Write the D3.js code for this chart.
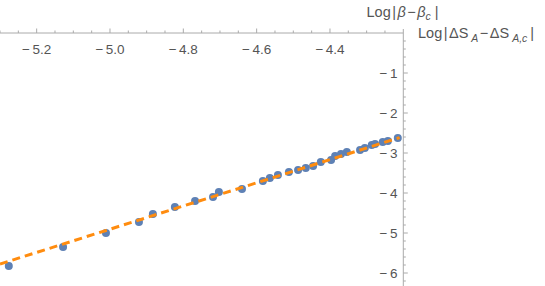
<!DOCTYPE html>
<head>
  <meta charset="utf-8">
  <script src="https://d3js.org/d3.v7.min.js"></script>
  <style>
    body { margin: 0; background: #fff; }
    text { font-family: "Liberation Sans", Arial, sans-serif; fill: #555; }
  </style>
</head>
<body>
  <svg id="chart"></svg>
  <script>
    var width = 545, height = 286;

    // data: Log|beta-beta_c| vs Log|dS_A - dS_A,c|
    var logBeta = [-5.276, -5.128, -5.011, -4.921, -4.883, -4.823, -4.768, -4.719, -4.703,
                   -4.640, -4.583, -4.564, -4.542, -4.512, -4.487, -4.466, -4.446, -4.425,
                   -4.397, -4.386, -4.370, -4.354, -4.318, -4.305, -4.286, -4.277, -4.256,
                   -4.242, -4.215];
    var logDS = [-5.825, -5.35, -5.0, -4.725, -4.525, -4.35, -4.2, -4.1, -3.975,
                 -3.9, -3.7, -3.625, -3.55, -3.475, -3.425, -3.375, -3.325, -3.225,
                 -3.175, -3.075, -3.025, -2.975, -2.925, -2.875, -2.8, -2.775, -2.725,
                 -2.7, -2.625];
    // linear fit shown as the dashed line
    var fitSlope = 2.9;
    var fitIntercept = 9.595;
    var fitRange = [-5.3, -4.21];

    var xTicks = [-5.2, -5.0, -4.8, -4.6, -4.4];
    var xTickLabels = ["5.2", "5.0", "4.8", "4.6", "4.4"];
    var yTicks = [-1, -2, -3, -4, -5, -6];
    var yTickLabels = ["1", "2", "3", "4", "5", "6"];

    var svg = d3.select("#chart").attr("width", width).attr("height", height);

    var x = d3.scaleLinear().domain([-5.3, -4.2]).range([0, 403.3]);
    var y = d3.scaleLinear().domain([0, -6]).range([33, 273]);

    var axisColor = "#aaa";

    //x axis line and ticks (ticks point up)
    svg.append("line")
      .attr("x1", x(-5.3)).attr("x2", x(-4.2))
      .attr("y1", y(0)).attr("y2", y(0))
      .attr("stroke", axisColor);

    var xMinor = d3.range(-5.3, -4.2, 0.05).filter(function(v) {
      return !xTicks.some(function(t) { return Math.abs(t - v) < 1e-6; });
    });
    svg.selectAll(".xminor").data(xMinor).enter().append("line")
      .attr("x1", d => x(d)).attr("x2", d => x(d))
      .attr("y1", y(0)).attr("y2", y(0) - 2.5)
      .attr("stroke", axisColor);
    svg.selectAll(".xmajor").data(xTicks).enter().append("line")
      .attr("x1", d => x(d)).attr("x2", d => x(d))
      .attr("y1", y(0)).attr("y2", y(0) - 4.5)
      .attr("stroke", axisColor);
    var xl = svg.selectAll(".xlab").data(xTicks).enter().append("text")
      .attr("x", d => x(d))
      .attr("y", 53.5)
      .attr("text-anchor", "middle")
      .style("font-size", "13.5px");
    xl.append("tspan").text("\u2212");
    xl.append("tspan").attr("dx", 2.5).text((d, i) => xTickLabels[i]);

    //y axis line and ticks (ticks point right)
    svg.append("line")
      .attr("x1", x(-4.2)).attr("x2", x(-4.2))
      .attr("y1", 29).attr("y2", height)
      .attr("stroke", axisColor);
    var yMinor = d3.range(0, -6.4, -0.2).filter(function(v) {
      return Math.abs(v - Math.round(v)) > 1e-6;
    });
    svg.selectAll(".yminor").data(yMinor).enter().append("line")
      .attr("x1", x(-4.2)).attr("x2", x(-4.2) + 2.5)
      .attr("y1", d => y(d)).attr("y2", d => y(d))
      .attr("stroke", axisColor);
    svg.selectAll(".ymajor").data(yTicks).enter().append("line")
      .attr("x1", x(-4.2)).attr("x2", x(-4.2) + 4.5)
      .attr("y1", d => y(d)).attr("y2", d => y(d))
      .attr("stroke", axisColor);
    var yl = svg.selectAll(".ylab").data(yTicks).enter().append("text")
      .attr("x", 397.5)
      .attr("y", d => y(d) + 5)
      .attr("text-anchor", "end")
      .style("font-size", "13.5px");
    yl.append("tspan").text("\u2212");
    yl.append("tspan").attr("dx", 2.5).text((d, i) => yTickLabels[i]);

    //axis labels
    var t1 = svg.append("text").attr("x", 366.5).attr("y", 16.5).style("font-size", "14.5px");
    t1.append("tspan").text("Log");
    t1.append("tspan").attr("dx", 1.5).text("|");
    t1.append("tspan").attr("dx", 1.5).style("font-style", "italic").text("\u03b2");
    t1.append("tspan").attr("dx", 1.5).text("\u2212");
    t1.append("tspan").attr("dx", 1.5).style("font-style", "italic").text("\u03b2");
    t1.append("tspan").style("font-style", "italic").style("font-size", "10.5px").attr("dy", 3.5).text("c");
    t1.append("tspan").attr("dy", -3.5).attr("dx", 4).text("|");

    var t2 = svg.append("text").attr("x", 418).attr("y", 37.5).style("font-size", "14.5px");
    t2.append("tspan").text("Log");
    t2.append("tspan").attr("dx", 1.5).text("|");
    t2.append("tspan").attr("dx", 1.5).text("\u0394S");
    t2.append("tspan").attr("dx", 3).style("font-style", "italic").style("font-size", "10.5px").attr("dy", 4).text("A");
    t2.append("tspan").attr("dy", -4).attr("dx", 1.5).text("\u2212");
    t2.append("tspan").attr("dx", 1.5).text("\u0394S");
    t2.append("tspan").attr("dx", 3).style("font-style", "italic").style("font-size", "10.5px").attr("dy", 4).text("A,c");
    t2.append("tspan").attr("dy", -4).attr("dx", 3).text("|");

    //data points
    var pts = logBeta.map((b, i) => ({b: b, s: logDS[i]}));
    svg.append("g").selectAll("circle").data(pts).enter().append("circle")
      .attr("cx", d => x(d.b))
      .attr("cy", d => y(d.s))
      .attr("r", 4)
      .attr("fill", "#5e81b5");

    //fit line
    svg.append("line")
      .attr("x1", x(fitRange[0])).attr("y1", y(fitSlope * fitRange[0] + fitIntercept))
      .attr("x2", x(fitRange[1])).attr("y2", y(fitSlope * fitRange[1] + fitIntercept))
      .attr("stroke", "#ff8c0f")
      .attr("stroke-width", 3)
      .attr("stroke-dasharray", "8,5");
  </script>
</body>
